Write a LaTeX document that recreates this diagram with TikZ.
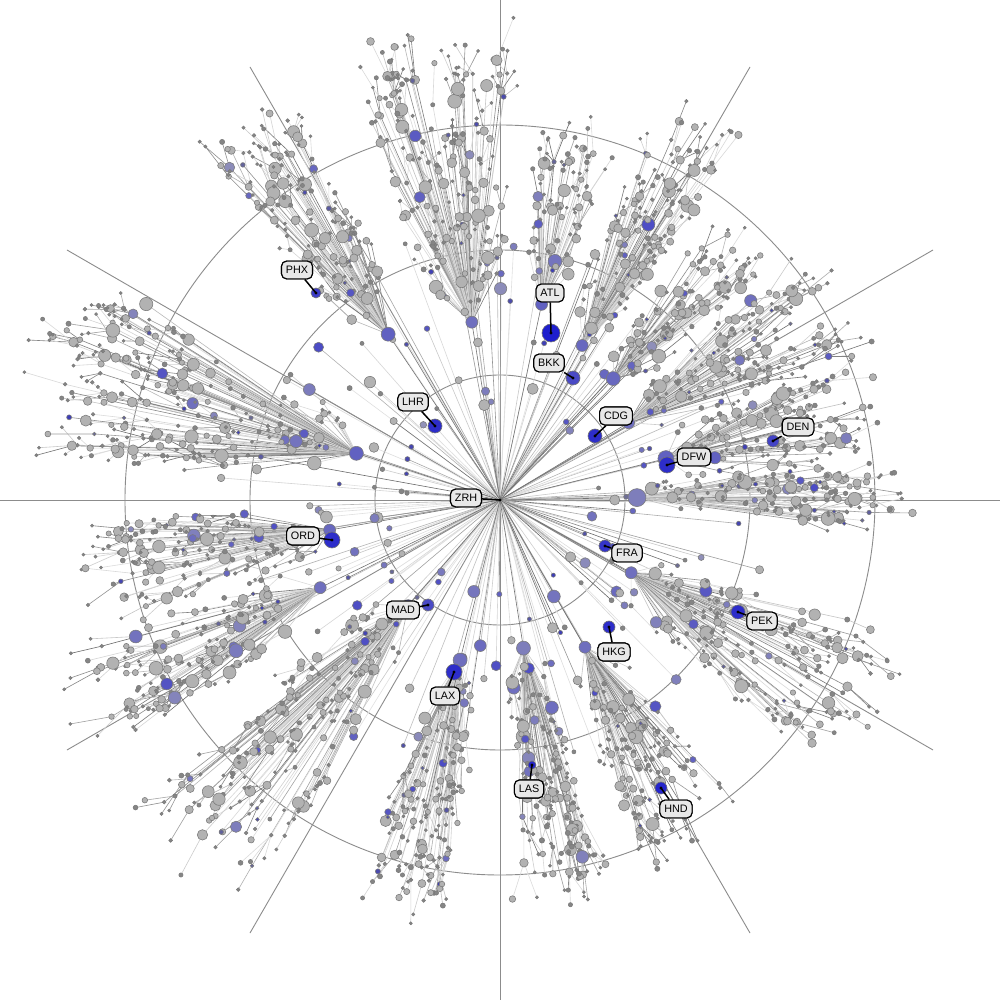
\documentclass[tikz,border=0pt]{standalone}
\usepackage{fontspec}
\setmainfont{Liberation Sans}
\definecolor{hubblue}{RGB}{30,30,205}
\definecolor{nodegray}{RGB}{178,178,178}
\definecolor{axisgray}{RGB}{140,140,140}
\definecolor{labelfill}{RGB}{232,232,232}
\tikzset{
  axisline/.style={draw=axisgray,line width=0.45pt},
  edge/.style={line width=0.3pt},
  vtx/.style={draw=black!52,line width=0.28pt},
  airport/.style={draw=black,fill=labelfill,rounded corners=2.6pt,line width=0.55pt,
    font=\fontsize{5.4}{6}\selectfont,inner xsep=2.2pt,inner ysep=2.6pt},
  leader/.style={draw=black,line width=0.75pt},
  hubnode/.style={circle,draw=black!55,line width=0.3pt,inner sep=0pt},
}
\newif\ifedges
\newcommand\dotat[3]{%
  \pgfmathtruncatemacro\dF{#2<2.6?48:30}%
  \colorlet{dfill}{black!\dF}%
  \filldraw[vtx,fill=hubblue!#3!dfill] (#1) circle[radius=#2];%
}
\newcommand\cluster[7]{%
  \coordinate (hub) at (#1:#3);
  \ifedges\draw[edge,draw=black!55] (0,0) -- (hub);\fi
  \foreach \i in {1,...,#5}{%
    \pgfmathsetmacro\cA{#1+#2*rand}%
    \pgfmathsetmacro\cR{#3+15+(#4-#3-15)*rnd^0.8}%
    \pgfmathsetmacro\cS{1.8+5.2*rnd^2.5}%
    \pgfmathtruncatemacro\cG{14+45*rnd^2}%
    \pgfmathtruncatemacro\cB{(rnd>0.88)*(25+45*rnd)}%
    \pgfmathtruncatemacro\cN{3.4*rnd}%
    \coordinate (ch) at (\cA:\cR);
    \ifnum\cN>0
      \foreach \j in {1,...,\cN}{%
        \pgfmathsetmacro\gA{\cA+2.2*rand}%
        \pgfmathsetmacro\gR{\cR+6+40*rnd}%
        \pgfmathsetmacro\gS{1.5+2.5*rnd^3}%
        \coordinate (gc) at (\gA:\gR);
        \ifedges\draw[edge,draw=black!\cG] (ch) -- (gc);\else\dotat{gc}{\gS}{0}\fi
      }%
    \fi
    \ifedges\draw[edge,draw=black!\cG] (hub) -- (ch);\else\dotat{ch}{\cS}{\cB}\fi
  }%
  \ifedges\else\filldraw[vtx,fill=hubblue!#7!nodegray] (hub) circle[radius=#6];\fi
}
\newcommand\alltree{%
  \foreach \i in {1,...,170}{%
    \pgfmathsetmacro\sA{360*rnd}%
    \pgfmathsetmacro\sR{90+190*rnd}%
    \pgfmathsetmacro\sS{2+4.5*rnd^2}%
    \pgfmathtruncatemacro\sG{12+50*rnd^2}%
    \pgfmathtruncatemacro\sB{(rnd>0.45)*(20+50*rnd)}%
    \coordinate (sp) at (\sA:\sR);
    \ifedges\draw[edge,draw=black!\sG] (0,0) -- (sp);\else\dotat{sp}{\sS}{\sB}\fi
  }%
  \cluster{1}{5}{137}{380}{75}{9}{35}%
  \cluster{14}{7}{171}{355}{65}{8}{55}%
  \cluster{31}{8}{150}{365}{75}{6}{45}%
  \cluster{47}{6}{166}{330}{55}{7}{50}%
  \cluster{62}{6}{175}{400}{65}{6}{50}%
  \cluster{78}{5}{200}{360}{40}{6}{55}%
  \cluster{99}{10}{180}{440}{110}{6}{45}%
  \cluster{124}{6}{200}{430}{75}{7}{55}%
  \cluster{162}{11}{151}{460}{120}{7}{55}%
  \cluster{190}{7}{173}{390}{75}{6}{50}%
  \cluster{206}{7}{200}{460}{75}{6}{45}%
  \cluster{229}{9}{140}{455}{95}{6}{40}%
  \cluster{256}{6}{165}{395}{85}{7}{45}%
  \cluster{279}{6}{150}{380}{75}{7}{35}%
  \cluster{300}{8}{170}{360}{75}{6}{45}%
  \cluster{331}{10}{150}{400}{100}{6}{45}%
}
\begin{document}
\begin{tikzpicture}[x=0.5pt,y=0.5pt]
\useasboundingbox (-500,-500) rectangle (500,500);
\clip (-500,-500) rectangle (500,500);
\fill[white] (-500,-500) rectangle (500,500);
% axes
\foreach \a in {0,30,...,330} \draw[axisline] (0,0) -- (\a:500);
\foreach \r in {125,250,375} \draw[axisline] (0,0) circle[radius=\r];
% tree: edges first, then vertices (same random sequence)
\pgfmathsetseed{7}\edgestrue\alltree
\pgfmathsetseed{7}\edgesfalse\alltree
% labelled airports
\coordinate (ZRH) at (0,0);
\foreach \n/\x/\y/\s/\b in {ATL/51/167/9/100, BKK/73/122/7/70, LHR/-65/74/7/90,
  PHX/-184/207/5/80, CDG/95/64/7/90, DFW/167/35/8/90, DEN/273/59/6/75,
  ORD/-168/-40/8/90, FRA/105/-46/6/85, MAD/-72/-105/6/70, PEK/238/-112/7/90,
  HKG/109/-127/6/90, LAX/-46/-172/8/90, LAS/32/-265/4/95, HND/161/-288/6/95}{
  \node[hubnode,minimum size=\s pt,fill=hubblue!\b!nodegray] (\n) at (\x,\y) {};
}
\foreach \n/\x/\y in {ZRH/-34/2, ATL/50/207, BKK/49/137, LHR/-87/98, PHX/-203/230,
  CDG/116/84, DFW/194/43, DEN/298/73, ORD/-197/-36, FRA/127/-53, MAD/-97/-110,
  PEK/262/-121, HKG/114/-152, LAX/-55/-196, LAS/29/-289, HND/176/-309}{
  \node[airport] (l\n) at (\x,\y) {\n};
  \draw[leader] (l\n) -- (\n.center);
  \fill[black] (\n.center) circle[radius=1.6];
  \node[airport] at (\x,\y) {\n};
}
\end{tikzpicture}
\end{document}
